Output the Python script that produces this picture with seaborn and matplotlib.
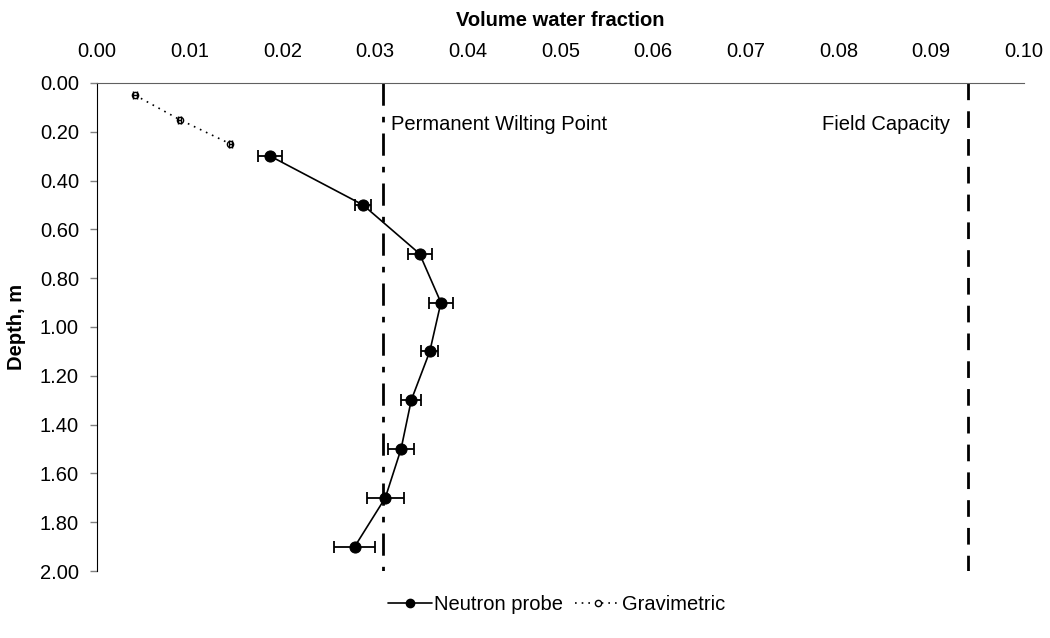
import numpy as np
import pandas as pd
import matplotlib
matplotlib.use("Agg")
import matplotlib.pyplot as plt
import seaborn as sns
from matplotlib.lines import Line2D
from matplotlib.ticker import FormatStrFormatter

# neutron probe readings
np_depth = [0.30, 0.50, 0.70, 0.90, 1.10, 1.30, 1.50, 1.70, 1.90]
np_water = [0.0187, 0.0287, 0.0348, 0.0371, 0.0359, 0.0339, 0.0328, 0.0311, 0.0278]
np_err = [0.0013, 0.0009, 0.0013, 0.0013, 0.0009, 0.0011, 0.0014, 0.0020, 0.0022]

# gravimetric samples
grav_depth = [0.05, 0.15, 0.25]
grav_water = [0.0041, 0.0089, 0.0144]
grav_err = [0.0002, 0.0002, 0.0002]

pwp = 0.0309
field_cap = 0.094
x_ticks = [0.00, 0.01, 0.02, 0.03, 0.04, 0.05, 0.06, 0.07, 0.08, 0.09, 0.10]
y_ticks = [0.00, 0.20, 0.40, 0.60, 0.80, 1.00, 1.20, 1.40, 1.60, 1.80, 2.00]

FS = 14.5

sns.set_style("ticks")
plt.rcParams["font.family"] = ["Liberation Sans", "DejaVu Sans"]
plt.rcParams["font.size"] = FS
plt.rcParams["text.color"] = "black"
plt.rcParams["axes.labelcolor"] = "black"

fig = plt.figure(figsize=(10.5, 6.38), dpi=100)
ax = fig.add_axes([0.0924, 0.105, 0.8828, 0.765])

df_np = pd.DataFrame({"depth": np_depth, "water": np_water})
df_gr = pd.DataFrame({"depth": grav_depth, "water": grav_water})

sns.lineplot(data=df_gr, x="water", y="depth", orient="y", sort=False, ax=ax,
             color="black", linestyle=(0, (1, 3)), linewidth=1.2, marker="o",
             markersize=4.5, markerfacecolor="white", markeredgecolor="black",
             markeredgewidth=1.0)
ax.errorbar(grav_water, grav_depth, xerr=grav_err, fmt="none", ecolor="black",
            elinewidth=1, capsize=3, capthick=1)

sns.lineplot(data=df_np, x="water", y="depth", orient="y", sort=False, ax=ax,
             color="black", linewidth=1.2, marker="o", markersize=8,
             markeredgecolor="black")
ax.errorbar(np_water, np_depth, xerr=np_err, fmt="none", ecolor="black",
            elinewidth=1.3, capsize=4, capthick=1.3)

ax.plot([pwp, pwp], [0, 2.0], color="black", linewidth=2,
        linestyle=(0, (8, 4, 2, 4)))
ax.plot([field_cap, field_cap], [0, 2.0], color="black", linewidth=2,
        linestyle=(0, (6, 4)))
ax.text(pwp + 0.0008, 0.17, "Permanent Wilting Point", va="center", ha="left", fontsize=FS)
ax.text(field_cap - 0.002, 0.17, "Field Capacity", va="center", ha="right", fontsize=FS)

ax.set_xlim(0, 0.10)
ax.set_ylim(2.0, 0.0)
ax.set_xticks(x_ticks)
ax.set_yticks(y_ticks)
ax.xaxis.set_major_formatter(FormatStrFormatter("%.2f"))
ax.yaxis.set_major_formatter(FormatStrFormatter("%.2f"))
ax.xaxis.tick_top()
ax.xaxis.set_label_position("top")
ax.tick_params(axis="both", direction="out", length=5, width=1, labelsize=FS,
               colors="black")
ax.tick_params(axis="x", pad=11)
ax.tick_params(axis="y", pad=8, color="#808080")
ax.set_xlabel("Volume water fraction", fontweight="bold", fontsize=FS, labelpad=11)
ax.set_ylabel("Depth, m", fontweight="bold", fontsize=FS, labelpad=10)
sns.despine(ax=ax, top=False, right=True, bottom=True, left=False)
ax.spines["top"].set_color("#606060")
ax.spines["left"].set_color("black")

handles = [
    Line2D([], [], color="black", linewidth=1.2, marker="o", markersize=6),
    Line2D([], [], color="black", linewidth=1.2, linestyle=(0, (1, 3)), marker="o",
           markersize=4.5, markerfacecolor="white"),
]
fig.legend(handles, ["Neutron probe", "Gravimetric"], loc="center",
           bbox_to_anchor=(0.53, 0.052), ncol=2, frameon=False, fontsize=FS,
           handlelength=2.2, handletextpad=0.1, columnspacing=0.6)

fig.savefig("out.png", dpi=100)
